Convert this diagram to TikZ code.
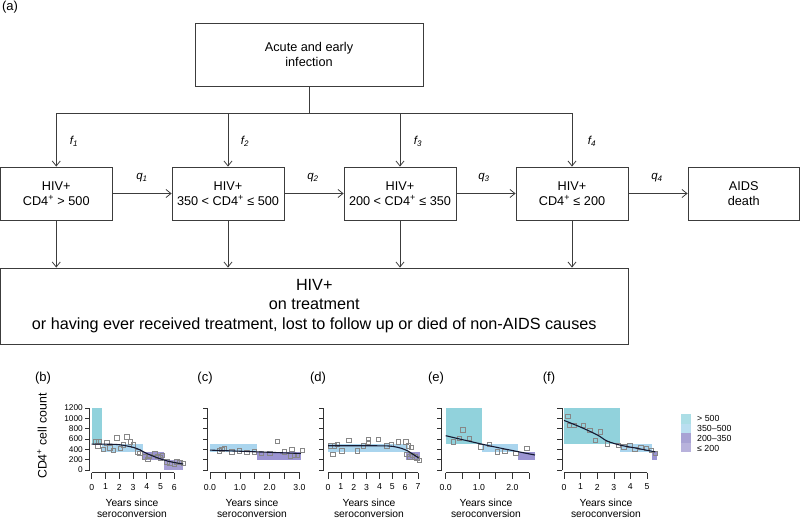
\documentclass[tikz,border=0pt]{standalone}
\usepackage{fontspec}
\setmainfont{Liberation Sans}
\usetikzlibrary{arrows.meta,plotmarks}
\definecolor{ln}{RGB}{60,60,60}
\definecolor{axc}{RGB}{50,50,50}
\definecolor{cteal}{RGB}{145,210,220}
\definecolor{cblue}{RGB}{170,213,238}
\definecolor{cpurp}{RGB}{155,148,210}
\definecolor{clav}{RGB}{165,158,212}
\definecolor{lteal}{RGB}{172,222,230}
\definecolor{lblue}{RGB}{186,222,240}
\definecolor{lpurp}{RGB}{168,162,212}
\definecolor{llav}{RGB}{184,178,220}
\definecolor{cpt}{RGB}{135,135,135}
\definecolor{ccurve}{RGB}{20,25,50}
\begin{document}
\begin{tikzpicture}[x=1pt,y=-1pt,
  box/.style={draw=ln, line width=0.8pt, align=center, inner sep=0pt, font=\fontsize{12.7}{15}\selectfont},
  arr/.style={draw=ln, line width=0.8pt, -{Straight Barb[length=5pt,width=8pt]}},
  conn/.style={draw=ln, line width=0.8pt},
  lab/.style={font=\fontsize{11.5}{13}\selectfont\itshape, inner sep=0pt},
  plab/.style={font=\fontsize{13}{15}\selectfont, inner sep=0pt},
  ax/.style={draw=axc, line width=0.6pt},
  tl/.style={font=\fontsize{8.3}{9}\selectfont, inner sep=0pt},
  xt/.style={font=\fontsize{10.3}{11.5}\selectfont, align=center, inner sep=0pt},
  lg/.style={font=\fontsize{8.8}{10}\selectfont, anchor=west, inner sep=0pt},
  crv/.style={draw=ccurve, line width=1.1pt}]
\useasboundingbox (0,0) rectangle (800,519);

% ---------- (a) flowchart ----------
\node[plab] (la) at (10,7) {(a)};
\node[box, minimum width=228pt, minimum height=63pt] (acute) at (309,54.5) {Acute and early\\infection};
\node[box, minimum width=111.5pt, minimum height=53pt] (b1) at (56.25,193.5) {HIV+\\CD4\textsuperscript{+} > 500};
\node[box, minimum width=112pt, minimum height=53pt] (b2) at (228,193.5) {HIV+\\350 < CD4\textsuperscript{+} ≤ 500};
\node[box, minimum width=112pt, minimum height=53pt] (b3) at (400,193.5) {HIV+\\200 < CD4\textsuperscript{+} ≤ 350};
\node[box, minimum width=112pt, minimum height=53pt] (b4) at (572,193.5) {HIV+\\CD4\textsuperscript{+} ≤ 200};
\node[box, minimum width=111.5pt, minimum height=53pt] (b5) at (743.75,193.5) {AIDS\\death};
\node[box, minimum width=627.5pt, minimum height=76pt, font=\fontsize{16.2}{19.5}\selectfont] (tr) at (314.25,306) {HIV+\\on treatment\\or having ever received treatment, lost to follow up or died of non-AIDS causes};

\coordinate (j) at (309,113);
\draw[conn] (acute.south) -- (j);
\draw[arr] (j) -| (b1.north);
\draw[arr] (j) -| (b2.north);
\draw[arr] (j) -| (b3.north);
\draw[arr] (j) -| (b4.north);
\node[lab] (f1) at (74,141) {f\textsubscript{1}};
\node[lab] (f2) at (245,141) {f\textsubscript{2}};
\node[lab] (f3) at (418,141) {f\textsubscript{3}};
\node[lab] (f4) at (592,141) {f\textsubscript{4}};

\draw[arr] (b1) -- (b2);
\draw[arr] (b2) -- (b3);
\draw[arr] (b3) -- (b4);
\draw[arr] (b4) -- (b5);
\node[lab] (q1) at (142,178) {q\textsubscript{1}};
\node[lab] (q2) at (313,178) {q\textsubscript{2}};
\node[lab] (q3) at (484,178) {q\textsubscript{3}};
\node[lab] (q4) at (657,178) {q\textsubscript{4}};

\draw[arr] (b1.south) -- (b1.south |- tr.north);
\draw[arr] (b2.south) -- (b2.south |- tr.north);
\draw[arr] (b3.south) -- (b3.south |- tr.north);
\draw[arr] (b4.south) -- (b4.south |- tr.north);

% ---------- panel labels ----------
\node[plab] (lb) at (43,378) {(b)};
\node[plab] (lc) at (205,378) {(c)};
\node[plab] (ld) at (318,378) {(d)};
\node[plab] (le) at (436,378) {(e)};
\node[plab] (lf) at (549,378) {(f)};
\node[font=\fontsize{12.3}{13}\selectfont, rotate=90, inner sep=0pt] (ylab) at (42,436) {CD4\textsuperscript{+} cell count};

% ---------- panel (b) ----------
\begin{scope}[shift={(91.7,470)}, x=13.75pt, y=0.05167pt]
  \fill[cteal] (0,500) rectangle (0.77,1200);
  \fill[cblue] (0.77,350) rectangle (3.75,500);
  \fill[cpurp] (3.75,200) rectangle (5.28,350);
  \fill[clav] (5.28,0) rectangle (6.67,200);
  \draw[cpt, line width=0.6pt] plot[only marks, mark=square, mark size=2.2pt] coordinates {
   (0.29,548) (0.53,548) (0.44,470) (0.85,406) (1.09,528) (1.33,431) (1.57,387) (1.82,625)
   (2.06,420) (2.3,484) (2.55,645) (2.79,548) (3.03,484) (3.35,354) (3.51,323) (3.83,258)
   (4.07,213) (4.17,271) (4.6,323) (4.8,271) (4.97,238) (5.14,290) (5.45,161) (5.69,129)
   (6.0,110) (6.18,161) (6.42,145) (6.66,135)};
  \draw[crv] plot[smooth] coordinates {(0,500) (1,500) (2,490) (3,440) (3.5,390) (4,320) (4.5,265) (5,215) (5.5,175) (6,145) (6.66,115)};
\end{scope}
\draw[ax] (89.5,470) -- (89.5,408);
\foreach \t/\s in {0/0,1/200,2/400,3/600,4/800,5/1000,6/1200}{
  \draw[ax] (89.5,470-\t*10.333) -- (84.5,470-\t*10.333);
  \node[tl, anchor=east] at (83,470-\t*10.333) {\s};}
\draw[ax] (91.7,472.5) -- (174.2,472.5);
\foreach \v in {0,...,6}{
  \draw[ax] (91.7+13.75*\v,472.5) -- ++(0,6);
  \node[tl, font=\fontsize{8.7}{9}\selectfont] at (91.7+13.75*\v,487) {\v};}
\node[xt] (xb) at (132,508.5) {Years since\\seroconversion};

% ---------- panel (c) ----------
\begin{scope}[shift={(210,470)}, x=29.83pt, y=0.05167pt]
  \fill[cblue] (0,350) rectangle (1.57,500);
  \fill[cpurp] (1.57,200) rectangle (3.05,350);
  \draw[cpt, line width=0.6pt] plot[only marks, mark=square, mark size=2.2pt] coordinates {
   (0.31,372) (0.4,395) (0.47,415) (0.73,350) (0.99,372) (1.23,340) (1.48,350) (1.71,320)
   (2.0,320) (2.26,550) (2.49,350) (2.74,397) (2.69,275) (2.83,290) (2.93,290) (3.09,385)};
  \draw[crv] (0,385) -- (3.05,320);
\end{scope}
\draw[ax] (207.5,470) -- (207.5,408);
\foreach \t in {0,...,6}{\draw[ax] (207.5,470-\t*10.333) -- (202.5,470-\t*10.333);}
\draw[ax] (210,472.5) -- (299.5,472.5);
\foreach \v in {0,0.5,...,3.0}{\draw[ax] (210+29.83*\v,472.5) -- ++(0,6);}
\foreach \v/\s in {0/0.0,1/1.0,2/2.0,3/3.0}{\node[tl, font=\fontsize{8.7}{9}\selectfont] at (210+29.83*\v,487) {\s};}
\node[xt] (xc) at (252,508.5) {Years since\\seroconversion};

% ---------- panel (d) ----------
\begin{scope}[shift={(328,470)}, x=12.86pt, y=0.05167pt]
  \fill[cblue] (0,350) rectangle (6.2,500);
  \fill[cpurp] (6.05,200) rectangle (7.15,350);
  \draw[cpt, line width=0.6pt] plot[only marks, mark=square, mark size=2.2pt] coordinates {
   (0.16,470) (0.36,303) (0.5,465) (0.7,500) (1.06,373) (1.63,580) (2.28,373) (2.75,470)
   (3.14,600) (3.14,535) (3.9,600) (4.56,470) (4.9,503) (5.47,548) (6.06,548) (6.25,465)
   (6.5,440) (6.12,303) (6.35,258) (6.55,290) (6.75,258) (6.9,225) (7.1,193)};
  \draw[crv] plot[smooth] coordinates {(0,470) (1,470) (2,470) (3,470) (4,468) (4.7,465) (5.2,450) (5.7,420) (6.2,370) (6.6,305) (7.05,235)};
\end{scope}
\draw[ax] (323.5,470) -- (323.5,408);
\foreach \t in {0,...,6}{\draw[ax] (323.5,470-\t*10.333) -- (318.5,470-\t*10.333);}
\draw[ax] (328,472.5) -- (418,472.5);
\foreach \v in {0,...,7}{
  \draw[ax] (328+12.86*\v,472.5) -- ++(0,6);
  \node[tl, font=\fontsize{8.7}{9}\selectfont] at (328+12.86*\v,487) {\v};}
\node[xt] (xd) at (369,508.5) {Years since\\seroconversion};

% ---------- panel (e) ----------
\begin{scope}[shift={(445.7,470)}, x=33.3pt, y=0.05167pt]
  \fill[cteal] (0,500) rectangle (1.1,1200);
  \fill[cblue] (1.1,350) rectangle (2.18,500);
  \fill[cpurp] (2.18,200) rectangle (2.68,350);
  \draw[cpt, line width=0.6pt] plot[only marks, mark=square, mark size=2.2pt] coordinates {
   (0.23,548) (0.41,613) (0.51,780) (0.71,613) (1.05,451) (1.31,497) (1.55,354) (1.78,367)
   (2.11,323) (2.43,420)};
  \draw[crv] plot[smooth] coordinates {(0,664) (1.3,470) (2.68,290)};
\end{scope}
\draw[ax] (441.5,470) -- (441.5,408);
\foreach \t in {0,...,6}{\draw[ax] (441.5,470-\t*10.333) -- (436.5,470-\t*10.333);}
\draw[ax] (445.7,472.5) -- (529,472.5);
\foreach \v in {0,0.5,...,2.5}{\draw[ax] (445.7+33.3*\v,472.5) -- ++(0,6);}
\foreach \v/\s in {0/0.0,1/1.0,2/2.0}{\node[tl, font=\fontsize{8.7}{9}\selectfont] at (445.7+33.3*\v,487) {\s};}
\node[xt] (xe) at (486,508.5) {Years since\\seroconversion};

% ---------- panel (f) ----------
\begin{scope}[shift={(564,470)}, x=16.6pt, y=0.05167pt]
  \fill[cteal] (0,500) rectangle (3.4,1200);
  \fill[cblue] (3.4,350) rectangle (5.3,500);
  \fill[cpurp] (5.3,200) rectangle (5.6,350);
  \draw[cpt, line width=0.6pt] plot[only marks, mark=square, mark size=2.2pt] coordinates {
   (0.24,1045) (0.32,865) (0.6,860) (1.16,870) (1.56,770) (2.2,740) (1.88,580) (2.6,510)
   (3.26,475) (3.6,450) (3.96,475) (4.26,395) (4.62,435) (4.96,415) (5.26,385) (5.5,320)};
  \draw[crv] plot[smooth] coordinates {(0,960) (1,830) (2,680) (2.6,560) (3.4,480) (4.4,420) (5.5,350)};
\end{scope}
\draw[ax] (562,470) -- (562,408);
\foreach \t in {0,...,6}{\draw[ax] (562,470-\t*10.333) -- (557,470-\t*10.333);}
\draw[ax] (564,472.5) -- (647,472.5);
\foreach \v in {0,...,5}{
  \draw[ax] (564+16.6*\v,472.5) -- ++(0,6);
  \node[tl, font=\fontsize{8.7}{9}\selectfont] at (564+16.6*\v,487) {\v};}
\node[xt] (xf) at (606,508.5) {Years since\\seroconversion};

% ---------- legend ----------
\fill[lteal] (681,414) rectangle (691,423.5);
\fill[lblue] (681,423.5) rectangle (691,433);
\fill[lpurp] (681,433) rectangle (691,442.5);
\fill[llav] (681,442.5) rectangle (691,452);
\node[lg] (g1) at (697,418.5) {> 500};
\node[lg] (g2) at (697,428.5) {350–500};
\node[lg] (g3) at (697,438.5) {200–350};
\node[lg] (g4) at (697,448.5) {≤ 200};
\end{tikzpicture}
\end{document}
